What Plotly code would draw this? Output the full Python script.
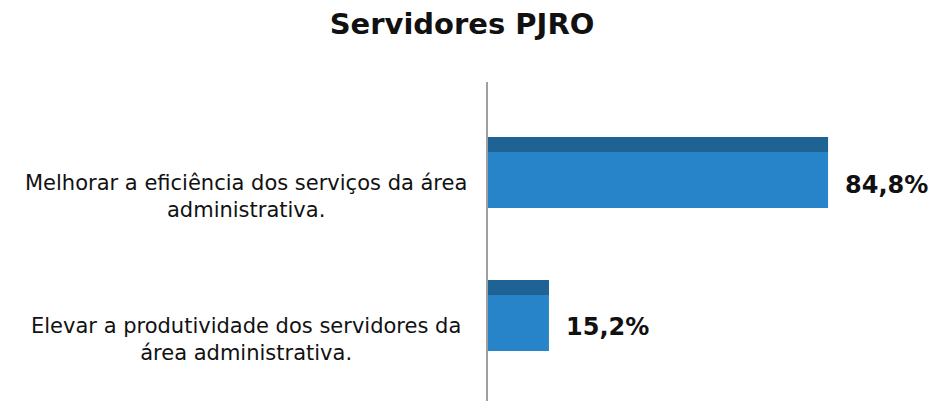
import plotly.graph_objects as go

categories = ["Melhorar a eficiência dos serviços da área<br>administrativa.",
              "Elevar a produtividade dos servidores da<br>área administrativa."]
values = [84.8, 15.2]
title_text = "Servidores PJRO"

MAIN = "#2884c8"
DARK = "#1f6394"
FONT = "DejaVu Sans"
OFF = 8  # default page body margin

fig = go.Figure()
fig.add_trace(go.Bar(y=categories, x=values, orientation="h", marker=dict(color=MAIN, line=dict(width=0)),
                     width=0.497, hoverinfo="skip"))
fig.add_trace(go.Bar(y=categories, x=values, orientation="h", marker=dict(color=DARK, line=dict(width=0)),
                     width=0.105, offset=-0.2485, hoverinfo="skip"))

for c, v in zip(categories, values):
    fig.add_annotation(x=v, y=c, xref="x", yref="y", text="<b>" + f"{v:.1f}".replace(".", ",") + "%</b>",
                       showarrow=False, xanchor="left", yanchor="middle", xshift=15, yshift=-12,
                       font=dict(family=FONT, size=24, color="#111"))
    fig.add_annotation(x=-0.6035, y=c, xref="paper", yref="y", text=c, showarrow=False,
                       xanchor="center", yanchor="middle", align="center", yshift=-24,
                       font=dict(family=FONT, size=21, color="#111"))

fig.update_layout(
    width=945 - OFF, height=401 - OFF, barmode="overlay", showlegend=False,
    paper_bgcolor="white", plot_bgcolor="white",
    margin=dict(l=488 - OFF, r=56, t=82 - OFF, b=0),
    title=dict(text="<b>" + title_text + "</b>", x=(462 - OFF) / (945 - OFF), xanchor="center",
               y=1 - (24 - OFF) / (401 - OFF), yanchor="middle",
               yref="container", font=dict(family=FONT, size=29, color="#111")),
    xaxis=dict(range=[0, 100], visible=False),
    yaxis=dict(range=[1.598, -0.633], showticklabels=False, showgrid=False, zeroline=False,
               showline=True, linecolor="#a0a0a0", linewidth=2, ticks=""),
)
fig.write_html("out.html")
